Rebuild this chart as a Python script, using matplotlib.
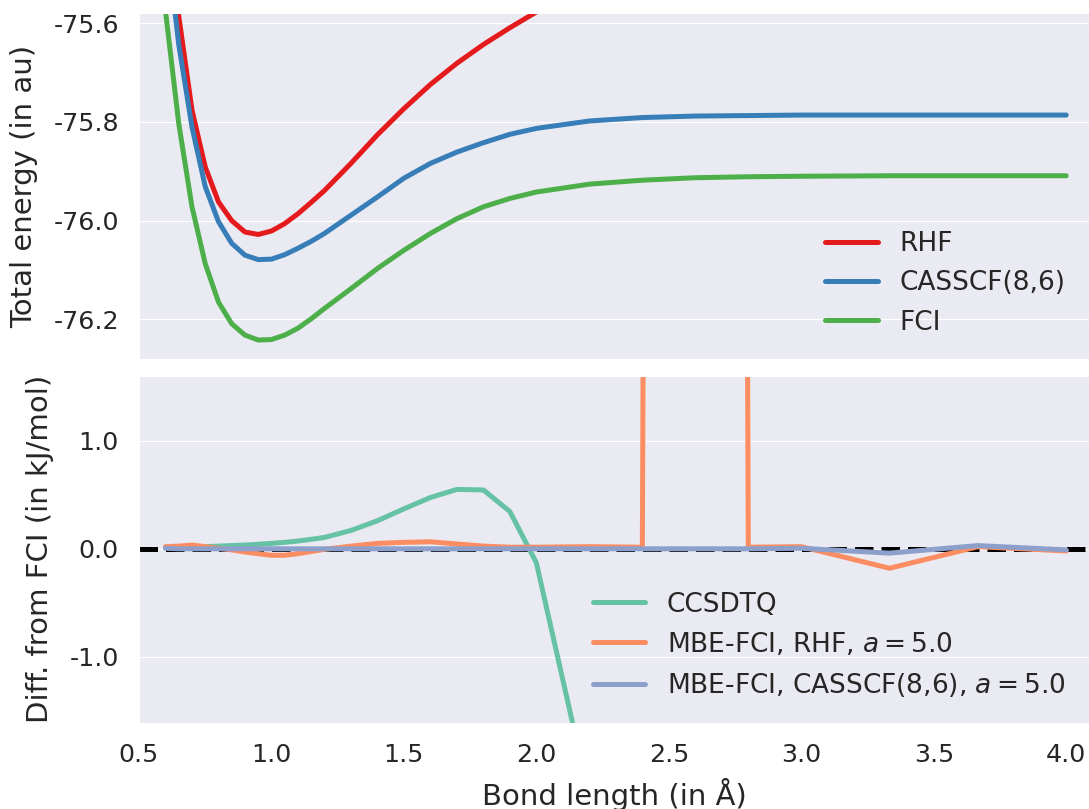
import numpy as np
import matplotlib
matplotlib.use('Agg')
import matplotlib.pyplot as plt
import seaborn as sns

# bond lengths (in Angstrom)
bond_lengths = [0.6, 0.65, 0.7, 0.75, 0.8, 0.85, 0.9, 0.95, 1.0, 1.05, 1.1, 1.15, 1.2,
                1.3, 1.4, 1.5, 1.6, 1.7, 1.8, 1.9, 2.0,
                2.2, 2.4, 2.6, 2.8, 3.0,
                3.333, 3.667, 4.0]

# total energies (in au)
e_rhf = [-75.380, -75.585, -75.776, -75.891, -75.962, -76.000, -76.023, -76.028, -76.021,
         -76.006, -75.986, -75.963, -75.939,
         -75.884, -75.826, -75.773, -75.724, -75.681, -75.643, -75.609, -75.577,
         -75.520, -75.470, -75.430, -75.390, -75.360,
         -75.320, -75.290, -75.270]
e_casscf = [-75.410, -75.643, -75.810, -75.931, -76.002, -76.046, -76.070, -76.079, -76.078,
            -76.069, -76.056, -76.042, -76.026,
            -75.989, -75.952, -75.914, -75.884, -75.861, -75.842, -75.825, -75.813,
            -75.798, -75.791, -75.788, -75.787, -75.786,
            -75.786, -75.786, -75.786]
e_fci = [-75.575, -75.803, -75.972, -76.087, -76.165, -76.209, -76.232, -76.242, -76.241,
         -76.232, -76.218, -76.199, -76.178,
         -76.138, -76.097, -76.060, -76.026, -75.996, -75.972, -75.955, -75.942,
         -75.926, -75.918, -75.913, -75.911, -75.910,
         -75.909, -75.909, -75.909]

# differences from FCI (in kJ/mol)
d_ccsdtq = [0.010, 0.012, 0.015, 0.020, 0.025, 0.030, 0.035, 0.042, 0.050,
            0.060, 0.072, 0.088, 0.105,
            0.170, 0.260, 0.370, 0.475, 0.550, 0.545, 0.345, -0.130,
            -2.30, -4.60, -6.90, -8.50, -9.60,
            -10.6, -11.0, -11.2]
d_mbe_rhf = [0.020, 0.025, 0.035, 0.020, 0.005, -0.010, -0.030, -0.045, -0.060,
             -0.060, -0.045, -0.025, -0.005,
             0.025, 0.050, 0.060, 0.065, 0.045, 0.025, 0.015, 0.015,
             0.020, 0.015, 120.0, 0.015, 0.020,
             -0.180, 0.020, -0.020]
d_mbe_casscf = [0.005, 0.0, 0.0, 0.0, 0.0, 0.0, 0.0, 0.0, 0.0,
                0.0, 0.0, 0.0, 0.0,
                0.0, 0.0, 0.0, 0.0, 0.0, 0.0, 0.0, 0.0,
                0.0, 0.0, 0.0, 0.0, 0.005,
                -0.040, 0.030, -0.010]

top_ticks = [-75.6, -75.8, -76.0, -76.2]
bottom_ticks = [-1.0, 0.0, 1.0]
x_ticks = [0.5, 1.0, 1.5, 2.0, 2.5, 3.0, 3.5, 4.0]

sns.set_style('darkgrid')
plt.rcParams['font.family'] = ['DejaVu Sans']
plt.rcParams['axes.unicode_minus'] = False

ticksfont = 18.3
labelfont = 21
legendfont = 19
lw = 3.6
tickpad = 14.4

set1 = sns.color_palette('Set1')
set2 = sns.color_palette('Set2')

fig = plt.figure(figsize=(10.89, 8.09), dpi=100)
ax1 = fig.add_axes([0.12764, 0.5559, 0.87236, 0.4284])
ax2 = fig.add_axes([0.12764, 0.1067, 0.87236, 0.4285], sharex=ax1)

# total energies
ax1.plot(bond_lengths, e_rhf, color=set1[0], lw=lw, label='RHF')
ax1.plot(bond_lengths, e_casscf, color=set1[1], lw=lw, label='CASSCF(8,6)')
ax1.plot(bond_lengths, e_fci, color=set1[2], lw=lw, label='FCI')
ax1.set_ylim(-76.281, -75.5785)
ax1.set_yticks(top_ticks)
ax1.set_yticklabels(['%.1f' % t for t in top_ticks], fontsize=ticksfont)
ax1.set_ylabel('Total energy (in au)', fontsize=labelfont, labelpad=11)
ax1.xaxis.grid(False)
ax1.tick_params(axis='x', labelbottom=False, length=0)
ax1.tick_params(axis='y', length=0, pad=tickpad)
ax1.legend(loc='lower right', fontsize=legendfont, frameon=False)

# differences from FCI
ax2.axhline(0.0, color='black', ls='--', lw=lw)
ax2.plot(bond_lengths, d_ccsdtq, color=set2[0], lw=lw, label='CCSDTQ')
ax2.plot(bond_lengths, d_mbe_rhf, color=set2[1], lw=lw,
         label=r'MBE-FCI, RHF, $a = 5.0$')
ax2.plot(bond_lengths, d_mbe_casscf, color=set2[2], lw=lw,
         label=r'MBE-FCI, CASSCF(8,6), $a = 5.0$')
ax2.set_ylim(-1.61, 1.60)
ax2.set_yticks(bottom_ticks)
ax2.set_yticklabels(['%.1f' % t for t in bottom_ticks], fontsize=ticksfont)
ax2.set_xlim(0.5, 4.086)
ax2.set_xticks(x_ticks)
ax2.set_xticklabels(['%.1f' % t for t in x_ticks], fontsize=ticksfont)
ax2.set_xlabel('Bond length (in Å)', fontsize=labelfont, labelpad=8)
ax2.set_ylabel('Diff. from FCI (in kJ/mol)', fontsize=labelfont, labelpad=11)
ax2.xaxis.grid(False)
ax2.tick_params(length=0, pad=tickpad)
ax2.legend(loc='lower right', fontsize=legendfont, frameon=False)

fig.align_ylabels([ax1, ax2])
plt.savefig('out.png', dpi=100)
